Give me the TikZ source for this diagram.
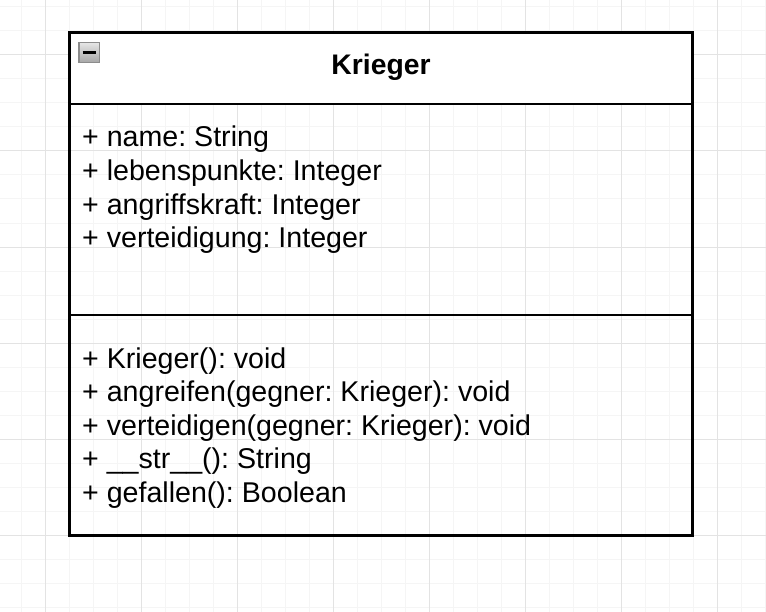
\documentclass[tikz,border=0pt]{standalone}
\usepackage{fontspec}
\setmainfont{Liberation Sans}
\frenchspacing
\begin{document}
\begin{tikzpicture}[x=1bp,y=-1bp,
  minorgrid/.style={draw=black!4,line width=1bp},
  majorgrid/.style={draw=black!11,line width=1bp},
  umlline/.style={draw=black,line width=2.2bp},
  member/.style={anchor=base west,inner sep=0pt,font=\fontsize{28.7}{34}\selectfont},
  titlestyle/.style={anchor=base,inner sep=0pt,font=\fontsize{28.4}{34}\selectfont\bfseries}]
\useasboundingbox (0,0) rectangle (766,612);
\fill[white] (0,0) rectangle (766,612);
% grid
\foreach \x in {21,45,...,765} {\draw[minorgrid] (\x,0) -- (\x,612);}
\foreach \y in {7,31,...,611} {\draw[minorgrid] (0,\y) -- (766,\y);}
\foreach \x in {45,141,...,765} {\draw[majorgrid] (\x,0) -- (\x,612);}
\foreach \y in {55,151,...,611} {\draw[majorgrid] (0,\y) -- (766,\y);}
% class box
\fill[white] (69.5,32.5) rectangle (692.5,104);
\draw[umlline] (69.5,32.5) rectangle (692.5,535.5);
\coordinate (d1l) at (69.5,104);
\coordinate (d1r) at (692.5,104);
\coordinate (d2l) at (69.5,315);
\coordinate (d2r) at (692.5,315);
\draw[umlline] (d1l) -- (d1r);
\draw[umlline] (d2l) -- (d2r);
% collapse icon
\shade[top color=white!90!black,bottom color=black!35] (79,42.5) rectangle (99.5,62.5);
\draw[draw=black!45,line width=1.2bp] (79,42.5) rectangle (99.5,62.5);
\draw[black,line width=2.2bp] (82.5,52.5) -- (96,52.5);
% title
\node[titlestyle] (title) at (381,75) {Krieger};
% attributes
\node[member] (a1) at (82,147) {+ name: String};
\node[member] (a2) at (82,180.6) {+ lebenspunkte: Integer};
\node[member] (a3) at (82,214.2) {+ angriffskraft: Integer};
\node[member] (a4) at (82,247.8) {+ verteidigung: Integer};
% methods
\node[member] (m1) at (82,368) {+ Krieger(): void};
\node[member] (m2) at (82,401.6) {+ angreifen(gegner: Krieger): void};
\node[member] (m3) at (82,435.2) {+ verteidigen(gegner: Krieger): void};
\node[member] (m4) at (82,468.8) {+ \_\_str\_\_(): String};
\node[member] (m5) at (82,502.4) {+ gefallen(): Boolean};
\end{tikzpicture}
\end{document}
